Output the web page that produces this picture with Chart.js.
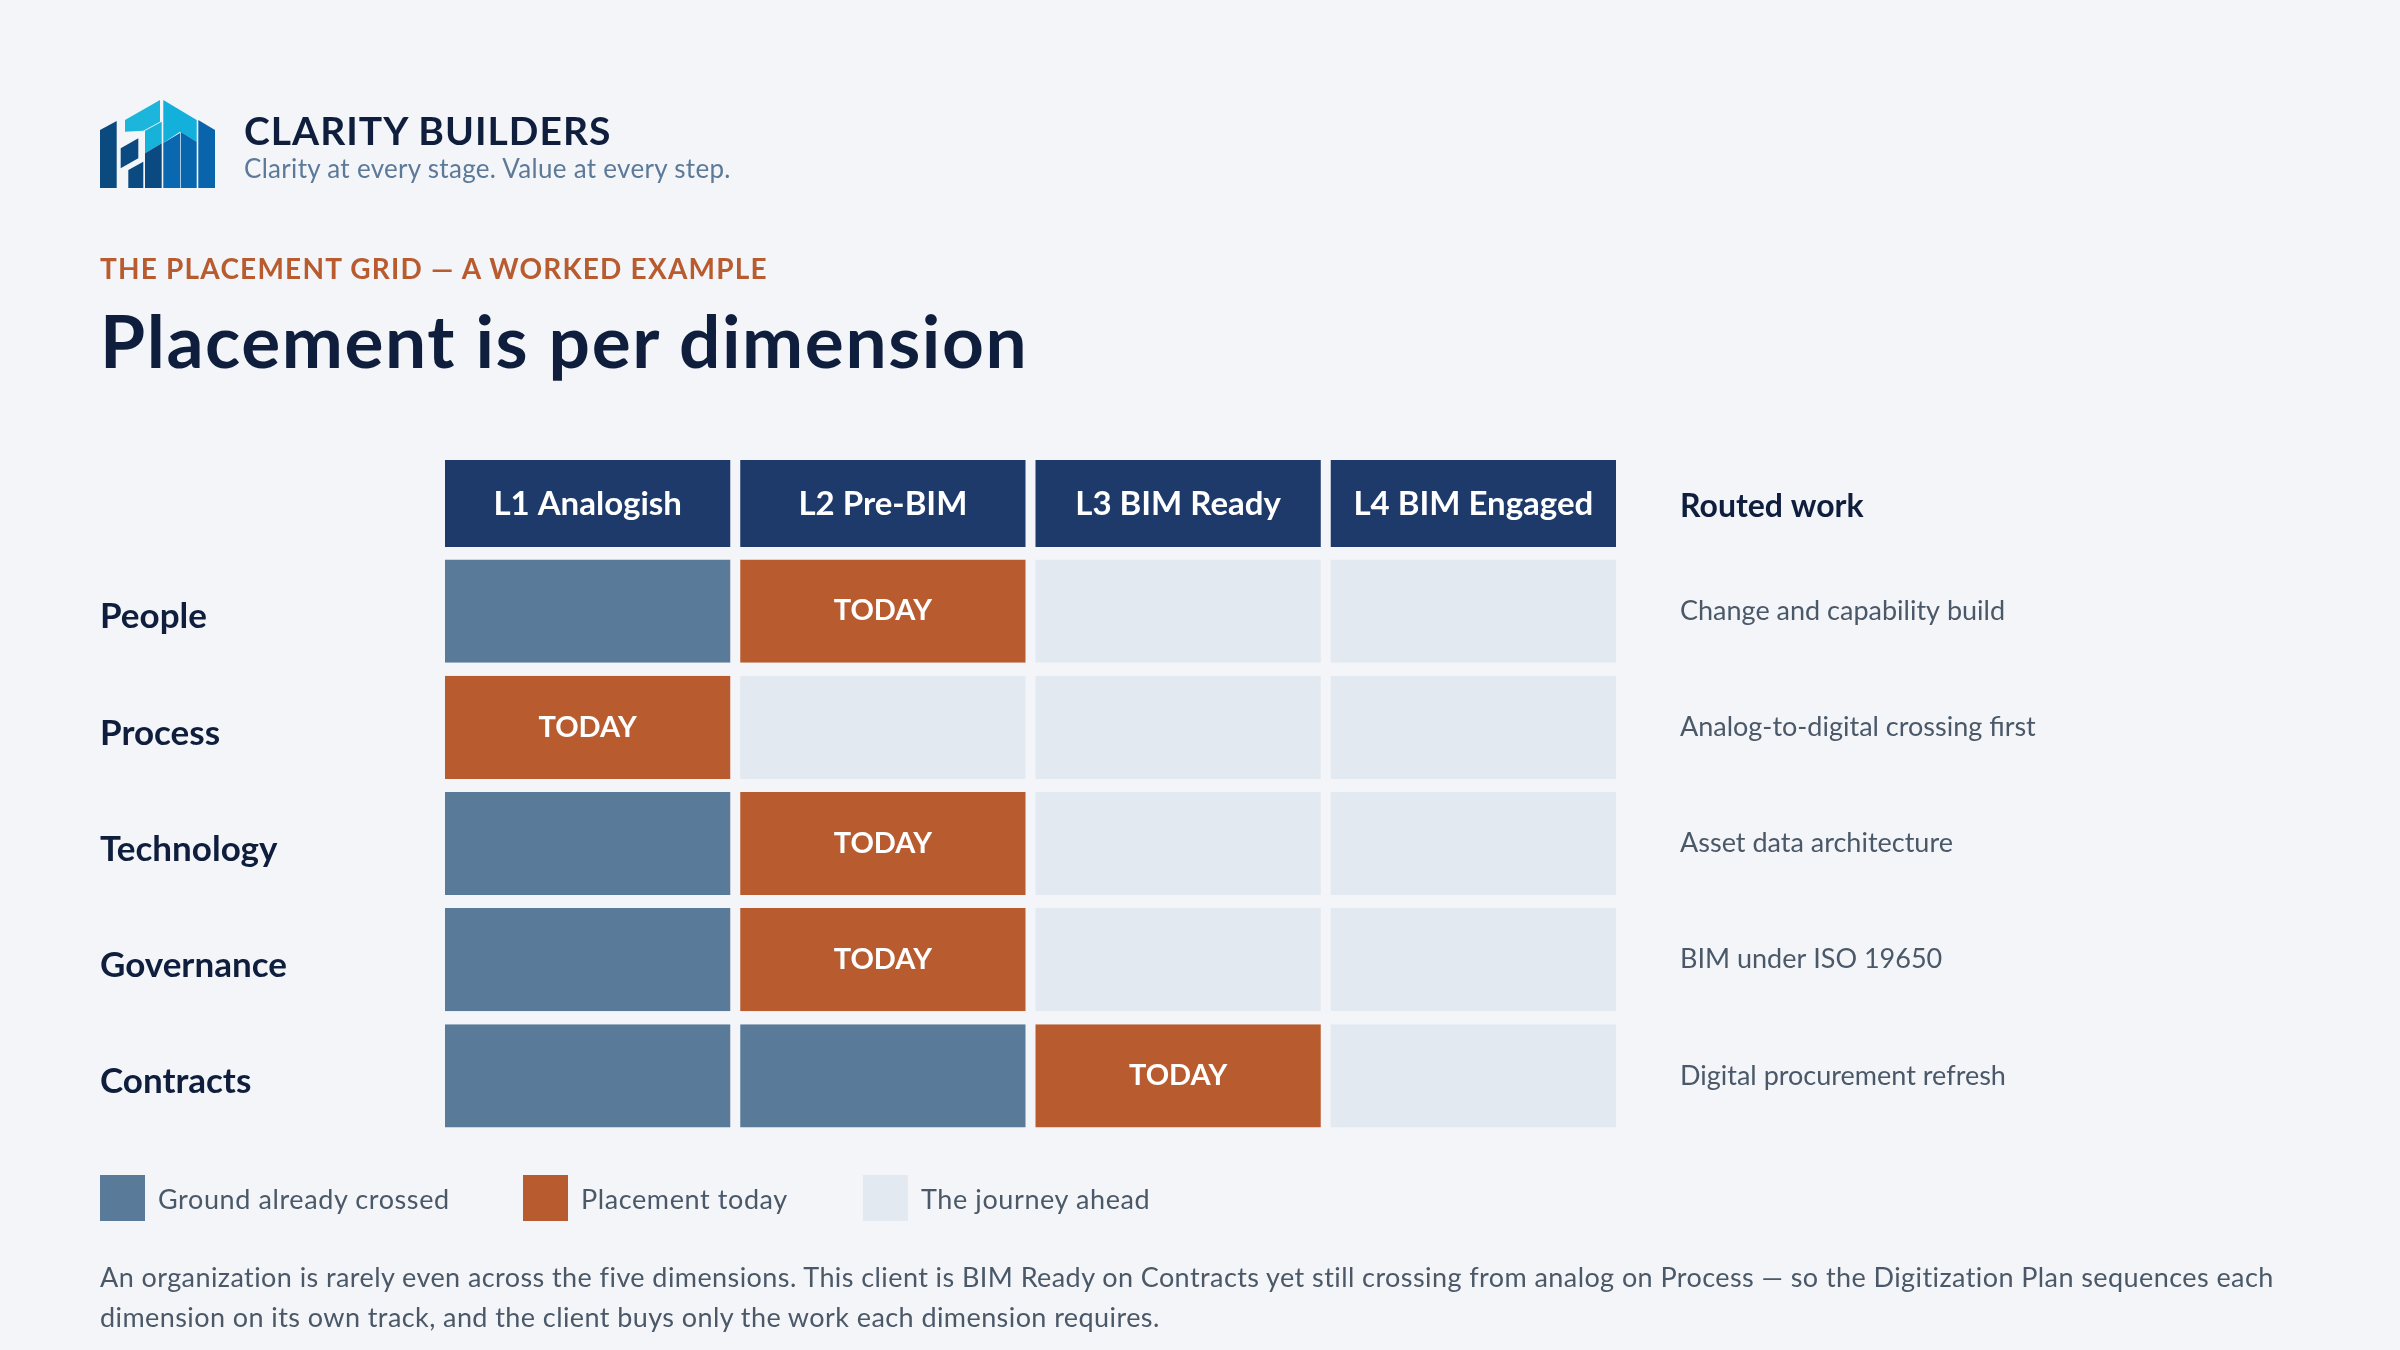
<!DOCTYPE html>
<html>
<head>
<meta charset="utf-8">
<title>Placement is per dimension</title>
<script src="https://cdn.jsdelivr.net/npm/chart.js@4.4.1/dist/chart.umd.min.js"></script>
<style>
  html, body { margin: 0; padding: 0; background: #f3f5f9; }
  body { width: 2400px; height: 1350px; position: relative; overflow: hidden; font-family: 'Lato', sans-serif; }
  #chartBox { position: absolute; left: 0; top: 0; width: 2400px; height: 1350px; }
  .abs { position: absolute; line-height: 1; white-space: nowrap; }
  .brand { left: 244px; top: 111px; font-size: 39px; font-weight: 700; color: #0e1e3c; letter-spacing: 1px; }
  .tagline { left: 244px; top: 155px; font-size: 26px; color: #5c7a98; letter-spacing: 0.3px; }
  .kicker { left: 100px; top: 254px; font-size: 28px; font-weight: 700; color: #b85c2f; letter-spacing: 1.2px; }
  .title { left: 100px; top: 304px; font-size: 73px; font-weight: 700; color: #0e1e3c; letter-spacing: 1.6px; }
  .legend-item { position: absolute; top: 1175px; height: 46px; display: flex; align-items: center; font-size: 27px; color: #4a5868; letter-spacing: 0.6px; white-space: nowrap; }
  .legend-item .swatch { width: 45px; height: 46px; margin-right: 13px; }
  .footer { position: absolute; left: 100px; top: 1257px; width: 2290px; font-size: 27px; line-height: 40px; color: #4a5868; letter-spacing: 0.42px; white-space: nowrap; }
</style>
</head>
<body>
<div id="chartBox"><canvas id="placementChart"></canvas></div>

<svg class="abs" style="left:100px;top:100px" width="116" height="88" viewBox="0 0 116 88">
  <polygon points="0,30 16.7,21 16.7,88 0,88" fill="#0b4a7e"/>
  <polygon points="25,20 60,0 60,21.7 43.3,30.7 25,31.7" fill="#1cb6dc"/>
  <polygon points="45,30.7 61.7,21.7 61.7,43.3 45,53.3" fill="#17b2da"/>
  <polygon points="63.3,0 96.7,20 96.7,41.7 80,31.7 63.3,43" fill="#12b0da"/>
  <polygon points="20.7,48.3 38.3,38.3 38.3,58.3 20.7,68.3" fill="#0b4a80"/>
  <polygon points="28.3,70 43.3,61.7 43.3,88 28.3,88" fill="#0b4a80"/>
  <polygon points="45,53.3 61.7,43.3 61.7,88 45,88" fill="#0a4a80"/>
  <polygon points="63.3,43 80,33 80,88 63.3,88" fill="#0a68b0"/>
  <polygon points="80.7,32 96.7,41.7 96.7,88 80.7,88" fill="#0866ae"/>
  <polygon points="98.3,20 115,30 115,88 98.3,88" fill="#0a64ac"/>
</svg>
<div class="abs brand">CLARITY BUILDERS</div>
<div class="abs tagline">Clarity at every stage. Value at every step.</div>
<div class="abs kicker">THE PLACEMENT GRID — A WORKED EXAMPLE</div>
<div class="abs title">Placement is per dimension</div>

<div id="legend"></div>

<div class="footer">An organization is rarely even across the five dimensions. This client is BIM Ready on Contracts yet still crossing from analog on Process — so the Digitization Plan sequences each<br>dimension on its own track, and the client buys only the work each dimension requires.</div>

<script>
// grid data
const levels = ['L1 Analogish', 'L2 Pre-BIM', 'L3 BIM Ready', 'L4 BIM Engaged'];
const dimensions = ['People', 'Process', 'Technology', 'Governance', 'Contracts'];
const todayLevel = [2, 1, 2, 2, 3]; // level each dimension sits at today
const routedWork = [
    'Change and capability build',
    'Analog-to-digital crossing first',
    'Asset data architecture',
    'BIM under ISO 19650',
    'Digital procurement refresh'
];
const legendLabels = ['Ground already crossed', 'Placement today', 'The journey ahead'];

const colors = {
    crossed: '#5a7a99',
    today: '#b85c2f',
    ahead: '#e2e9f1',
    header: '#1d3a6a',
    page: '#f3f5f9',
    navy: '#0e1e3c'
};

function cellState(row, col) {
    const lvl = col + 1;
    if (lvl < todayLevel[row]) return 'crossed';
    if (lvl === todayLevel[row]) return 'today';
    return 'ahead';
}

// legend
const legendKeys = ['crossed', 'today', 'ahead'];
const legendX = [100, 523, 863];
document.getElementById('legend').innerHTML = legendLabels.map((txt, i) =>
    '<div class="legend-item" style="left:' + legendX[i] + 'px">' +
    '<div class="swatch" style="background:' + colors[legendKeys[i]] + '"></div>' + txt + '</div>'
).join('');

const datasets = levels.map((lvl, c) => ({
    label: lvl,
    data: dimensions.map(() => [c, c + 1]),
    backgroundColor: dimensions.map((d, r) => colors[cellState(r, c)]),
    borderColor: colors.page,
    borderWidth: { left: 5, right: 5, top: 0, bottom: 0 },
    borderSkipped: false,
    grouped: false,
    barPercentage: 1,
    categoryPercentage: 103 / 116
}));

// level headers + "Routed work" header
const headerPlugin = {
    id: 'levelHeaders',
    afterDraw(chart) {
        const { ctx, chartArea, scales: { x } } = chart;
        const h = 87;
        const top = chartArea.top - 6 - h;
        ctx.save();
        ctx.textBaseline = 'middle';
        levels.forEach((lvl, c) => {
            const l = x.getPixelForValue(c) + 5;
            const r = x.getPixelForValue(c + 1) - 5;
            ctx.fillStyle = colors.header;
            ctx.fillRect(l, top, r - l, h);
            ctx.fillStyle = '#ffffff';
            ctx.font = 'bold 33px Lato';
            ctx.textAlign = 'center';
            ctx.fillText(lvl, (l + r) / 2, top + h / 2 + 1);
        });
        ctx.fillStyle = colors.navy;
        ctx.font = 'bold 32px Lato';
        ctx.textAlign = 'left';
        ctx.fillText('Routed work', chartArea.right + 59, top + h / 2 + 3);
        ctx.restore();
    }
};

// "TODAY" tags inside placement cells
const todayPlugin = {
    id: 'todayTags',
    afterDatasetsDraw(chart) {
        const { ctx } = chart;
        ctx.save();
        ctx.fillStyle = '#ffffff';
        ctx.font = 'bold 29px Lato';
        ctx.textAlign = 'center';
        ctx.textBaseline = 'middle';
        chart.data.datasets.forEach((ds, c) => {
            chart.getDatasetMeta(c).data.forEach((bar, r) => {
                if (cellState(r, c) !== 'today') return;
                const p = bar.getCenterPoint();
                ctx.fillText('TODAY', p.x, p.y);
            });
        });
        ctx.restore();
    }
};

Chart.defaults.font.family = 'Lato';

const ctx = document.getElementById('placementChart').getContext('2d');
new Chart(ctx, {
    type: 'bar',
    data: { labels: dimensions, datasets: datasets },
    plugins: [headerPlugin, todayPlugin],
    options: {
        indexAxis: 'y',
        responsive: true,
        maintainAspectRatio: false,
        animation: false,
        layout: { padding: { left: 100, right: 0, top: 553, bottom: 216 } },
        plugins: {
            legend: { display: false },
            tooltip: { enabled: false },
            title: { display: false }
        },
        scales: {
            x: { type: 'linear', min: 0, max: 4, display: false },
            y: {
                type: 'category',
                position: 'left',
                offset: true,
                grid: { display: false },
                border: { display: false },
                ticks: {
                    crossAlign: 'far',
                    padding: 0,
                    labelOffset: 6,
                    color: colors.navy,
                    font: { size: 35, weight: 'bold' }
                },
                afterFit(scale) { scale.width = 340; }
            },
            y2: {
                type: 'category',
                labels: routedWork,
                position: 'right',
                offset: true,
                grid: { display: false },
                border: { display: false },
                ticks: {
                    crossAlign: 'near',
                    padding: 51,
                    color: '#4a5868',
                    font: { size: 27 }
                },
                afterFit(scale) { scale.width = 779; }
            }
        }
    }
});
</script>
</body>
</html>
